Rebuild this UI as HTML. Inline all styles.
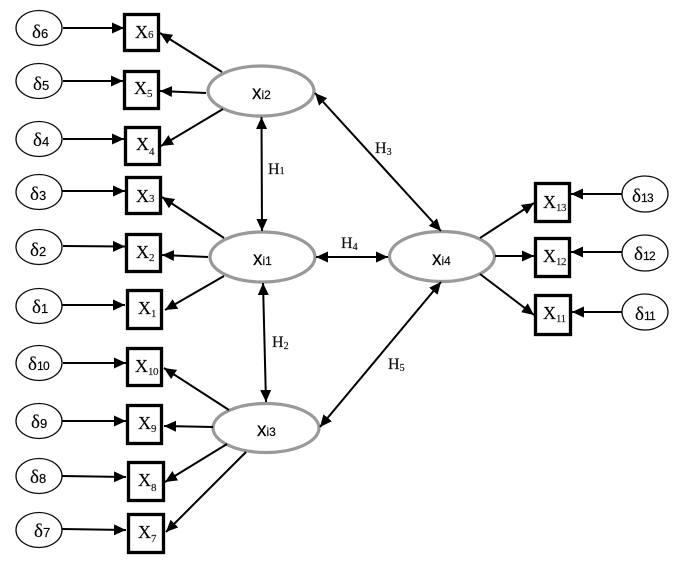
<!DOCTYPE html>
<html><head><meta charset="utf-8"><style>
html,body{margin:0;padding:0;background:#fff}
svg{display:block}
text{font-family:"Liberation Serif",serif;fill:#000;stroke:#000;stroke-width:0.15}
.x{font-size:18px}.xs{font-size:11px;fill:#222}
.d{font-size:19px}.ds{font-size:13px;font-family:"Liberation Sans",sans-serif}
.dd{font-size:12px;letter-spacing:-0.6px;font-family:"Liberation Sans",sans-serif}
.l{font-size:16px;fill:#111}.ls{font-size:10px}
.xi{font-size:19px;font-family:"Liberation Sans",sans-serif}.xis{font-size:12px;font-family:"Liberation Sans",sans-serif}
.b rect{fill:#fff;stroke:#000;stroke-width:3.3}
.e ellipse{fill:#fff;stroke:#111;stroke-width:1.3}
.g ellipse{fill:#fff;stroke:#999;stroke-width:3.2}
.a line{stroke:#000;stroke-width:2;marker-end:url(#m)}
.t line{stroke:#000;stroke-width:2;marker-end:url(#m);marker-start:url(#m)}
</style></head><body>
<svg width="681" height="561" viewBox="0 0 681 561" xmlns="http://www.w3.org/2000/svg">
<defs><marker id="m" markerUnits="userSpaceOnUse" markerWidth="13" markerHeight="12" refX="12" refY="6" orient="auto-start-reverse"><path d="M0,0.5L12,6L0,11.5Z" fill="#000"/></marker>
<filter id="f" x="0" y="0" width="681" height="561" filterUnits="userSpaceOnUse"><feGaussianBlur stdDeviation="0.35"/></filter></defs>
<g filter="url(#f)">
<rect width="681" height="561" fill="#fff"/>
<g class="e">
<ellipse cx="39" cy="28" rx="23" ry="17.5"/><ellipse cx="39" cy="81" rx="23" ry="17.5"/><ellipse cx="39" cy="139" rx="23" ry="17.5"/><ellipse cx="39" cy="192" rx="23" ry="17.5"/><ellipse cx="39" cy="247" rx="23" ry="17.5"/><ellipse cx="39" cy="306" rx="23" ry="17.5"/><ellipse cx="39" cy="363" rx="23" ry="17.5"/><ellipse cx="39" cy="421" rx="23" ry="17.5"/><ellipse cx="39" cy="476" rx="23" ry="17.5"/><ellipse cx="39" cy="530" rx="23" ry="17.5"/>
<ellipse cx="645" cy="194" rx="23" ry="18"/><ellipse cx="645" cy="253" rx="23" ry="18"/><ellipse cx="645" cy="312" rx="23" ry="18"/>
</g>
<g class="b">
<rect x="124.5" y="14.5" width="34" height="36"/><rect x="124.5" y="71.5" width="34" height="37"/><rect x="125.5" y="127.5" width="34" height="37"/><rect x="126.5" y="177.5" width="34" height="36"/><rect x="126.5" y="234.5" width="34" height="37"/><rect x="127.5" y="290.5" width="34" height="38"/><rect x="127.5" y="348.5" width="34" height="37"/><rect x="127.5" y="405.5" width="34" height="38"/><rect x="128.5" y="462.5" width="35" height="38"/><rect x="128.5" y="514.5" width="35" height="38"/>
<rect x="535.5" y="183.5" width="34" height="38"/><rect x="535.5" y="238.5" width="34" height="38"/><rect x="535.5" y="295.5" width="35" height="39"/>
</g>
<g class="g">
<ellipse cx="261" cy="91" rx="53" ry="25"/><ellipse cx="262.5" cy="257" rx="52.5" ry="25"/><ellipse cx="266" cy="428" rx="53" ry="24.5"/><ellipse cx="442" cy="256.5" rx="52.5" ry="25"/>
</g>
<g class="a">
<line x1="63" y1="28" x2="124" y2="28"/><line x1="63" y1="81" x2="123" y2="81"/><line x1="63" y1="139" x2="124" y2="139"/><line x1="62" y1="191" x2="125" y2="191"/><line x1="63" y1="246" x2="125" y2="246.5"/><line x1="62" y1="305" x2="125" y2="305"/><line x1="63" y1="363" x2="126" y2="363"/><line x1="62" y1="421" x2="126" y2="421"/><line x1="62" y1="476" x2="126" y2="477"/><line x1="62" y1="529" x2="126" y2="530"/>
<line x1="222" y1="72" x2="160" y2="33"/><line x1="206" y1="93" x2="160" y2="91"/><line x1="223" y1="109" x2="161" y2="146"/>
<line x1="224" y1="238" x2="162" y2="197"/><line x1="208" y1="257" x2="162" y2="255"/><line x1="224" y1="276" x2="165" y2="310"/>
<line x1="229" y1="410" x2="164" y2="368"/><line x1="213" y1="427" x2="164" y2="426"/><line x1="227" y1="444" x2="165" y2="482"/><line x1="246" y1="452" x2="166" y2="532"/>
<line x1="480" y1="238" x2="534" y2="203"/><line x1="495" y1="256" x2="534" y2="256"/><line x1="480" y1="274" x2="534" y2="315"/>
<line x1="622" y1="194" x2="571" y2="194"/><line x1="622" y1="252" x2="571" y2="252"/><line x1="622" y1="312" x2="572" y2="312"/>
</g>
<g class="t">
<line x1="261.5" y1="117" x2="262" y2="231"/><line x1="263" y1="283" x2="266" y2="402"/><line x1="315" y1="93" x2="441" y2="231"/><line x1="316" y1="257" x2="388" y2="257"/><line x1="320" y1="427" x2="441" y2="282"/>
</g>
<text class="d" x="32" y="38">δ<tspan class="ds">6</tspan></text>
<text class="d" x="33" y="90">δ<tspan class="ds">5</tspan></text>
<text class="d" x="33" y="146">δ<tspan class="ds">4</tspan></text>
<text class="d" x="30" y="200">δ<tspan class="ds">3</tspan></text>
<text class="d" x="30" y="256">δ<tspan class="ds">2</tspan></text>
<text class="d" x="32" y="313">δ<tspan class="ds">1</tspan></text>
<text class="d" x="28" y="370">δ<tspan class="dd">10</tspan></text>
<text class="d" x="31" y="428">δ<tspan class="ds">9</tspan></text>
<text class="d" x="30" y="483">δ<tspan class="ds">8</tspan></text>
<text class="d" x="34" y="537">δ<tspan class="ds">7</tspan></text>
<text class="d" x="632" y="202">δ<tspan class="dd">13</tspan></text>
<text class="d" x="634" y="260">δ<tspan class="dd">12</tspan></text>
<text class="d" x="635" y="320">δ<tspan class="dd">11</tspan></text>
<text class="x" x="135" y="38">X<tspan class="xs">6</tspan></text>
<text class="x" x="134" y="94">X<tspan class="xs" dy="3">5</tspan></text>
<text class="x" x="136" y="150">X<tspan class="xs" dy="5">4</tspan></text>
<text class="x" x="136" y="202">X<tspan class="xs">3</tspan></text>
<text class="x" x="136" y="258">X<tspan class="xs" dy="3">2</tspan></text>
<text class="x" x="138" y="314">X<tspan class="xs" dy="3">1</tspan></text>
<text class="x" x="135" y="372">X<tspan class="xs" dy="3" letter-spacing="-0.5">10</tspan></text>
<text class="x" x="138" y="429">X<tspan class="xs" dy="3">9</tspan></text>
<text class="x" x="138" y="486">X<tspan class="xs" dy="5">8</tspan></text>
<text class="x" x="138" y="538">X<tspan class="xs" dy="4">7</tspan></text>
<text class="x" x="543" y="208">X<tspan class="xs" dy="3" letter-spacing="-0.5">13</tspan></text>
<text class="x" x="543" y="262">X<tspan class="xs" dy="3" letter-spacing="-0.5">12</tspan></text>
<text class="x" x="543" y="319">X<tspan class="xs" dy="3" letter-spacing="-0.5">11</tspan></text>
<text class="xi" x="252" y="99">x<tspan class="xis">i2</tspan></text>
<text class="xi" x="253" y="265">x<tspan class="xis">i1</tspan></text>
<text class="xi" x="257" y="436">x<tspan class="xis">i3</tspan></text>
<text class="xi" x="432" y="265">x<tspan class="xis">i4</tspan></text>
<text class="l" x="268" y="174">H<tspan class="ls">1</tspan></text>
<text class="l" x="272" y="347">H<tspan class="ls" dy="2">2</tspan></text>
<text class="l" x="375" y="153">H<tspan class="ls" dy="2">3</tspan></text>
<text class="l" x="341" y="248">H<tspan class="ls" dy="2">4</tspan></text>
<text class="l" x="388" y="369">H<tspan class="ls" dy="2">5</tspan></text>
</g>
</svg>
</body></html>
